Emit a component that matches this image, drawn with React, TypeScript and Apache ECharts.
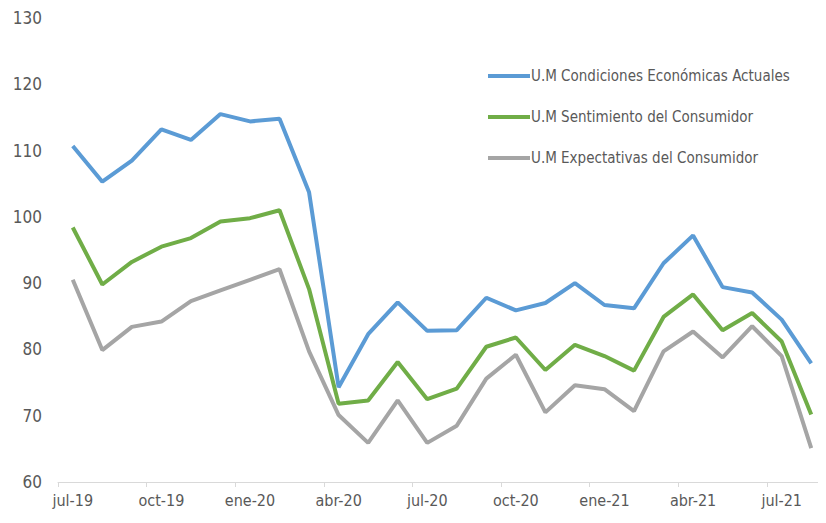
import React, { useEffect, useRef } from "react";
import * as echarts from "echarts";

const categories = [
  "jul-19", "ago-19", "sep-19", "oct-19", "nov-19", "dic-19",
  "ene-20", "feb-20", "mar-20", "abr-20", "may-20", "jun-20",
  "jul-20", "ago-20", "sep-20", "oct-20", "nov-20", "dic-20",
  "ene-21", "feb-21", "mar-21", "abr-21", "may-21", "jun-21",
  "jul-21", "ago-21",
];

const condicionesActuales = [
  110.7, 105.3, 108.5, 113.2, 111.6, 115.5, 114.4, 114.8, 103.7, 74.3,
  82.3, 87.1, 82.8, 82.9, 87.8, 85.9, 87.0, 90.0, 86.7, 86.2,
  93.0, 97.2, 89.4, 88.6, 84.5, 77.9,
];

const sentimiento = [
  98.4, 89.8, 93.2, 95.5, 96.8, 99.3, 99.8, 101.0, 89.1, 71.8,
  72.3, 78.1, 72.5, 74.1, 80.4, 81.8, 76.9, 80.7, 79.0, 76.8,
  84.9, 88.3, 82.9, 85.5, 81.2, 70.2,
];

const expectativas = [
  90.5, 79.9, 83.4, 84.2, 87.3, 88.9, 90.5, 92.1, 79.7, 70.1,
  65.9, 72.3, 65.9, 68.5, 75.6, 79.2, 70.5, 74.6, 74.0, 70.7,
  79.7, 82.7, 78.8, 83.5, 79.0, 65.1,
];

const seriesNames = [
  "U.M Condiciones Económicas Actuales",
  "U.M Sentimiento del Consumidor",
  "U.M Expectativas del Consumidor",
];

const colors = ["#5B9BD5", "#70AD47", "#A5A5A5"];

const FONT = "'Liberation Sans Narrow', 'DejaVu Sans Condensed', 'Open Sans', sans-serif";

export default function App() {
  const ref = useRef<HTMLDivElement>(null);
  useEffect(() => {
    if (!ref.current) return;
    const chart = echarts.init(ref.current, null, { renderer: "svg" });
    const data = [condicionesActuales, sentimiento, expectativas];
    chart.setOption({
      animation: false,
      backgroundColor: "#ffffff",
      textStyle: { fontFamily: FONT },
      grid: { left: 58, right: -6, top: 18, bottom: 41 },
      legend: {
        orient: "vertical",
        left: 483,
        top: 62,
        itemWidth: 42,
        itemHeight: 4,
        itemGap: 23,
        icon: "rect",
        textStyle: { fontFamily: FONT, fontSize: 15, color: "#595959", lineHeight: 18, padding: [0, 0, 0, -4] },
        data: seriesNames,
      },
      xAxis: {
        type: "category",
        data: categories,
        boundaryGap: true,
        axisLine: { show: true, lineStyle: { color: "#D9D9D9", width: 1 } },
        axisTick: { show: true, interval: 2, length: 5, lineStyle: { color: "#D9D9D9" } },
        axisLabel: { interval: 2, color: "#595959", fontSize: 16, fontFamily: FONT, margin: 10 },
        splitLine: { show: false },
      },
      yAxis: {
        type: "value",
        min: 60,
        max: 130,
        interval: 10,
        axisLine: { show: false },
        axisTick: { show: false },
        splitLine: { show: false },
        axisLabel: { color: "#595959", fontSize: 17, fontFamily: FONT, margin: 16 },
      },
      series: data.map((d, i) => ({
        name: seriesNames[i],
        type: "line",
        data: d,
        symbol: "none",
        color: colors[i],
        lineStyle: { width: 4, color: colors[i] },
        z: 3 - i,
      })),
    });
    return () => chart.dispose();
  }, []);
  return <div ref={ref} style={{ width: 826, height: 523, margin: -8 }} />;
}
